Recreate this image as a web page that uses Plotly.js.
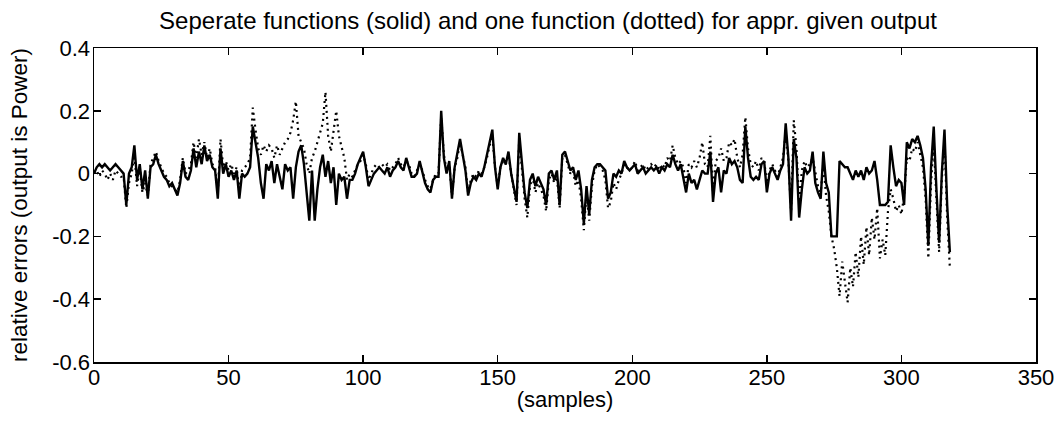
<!DOCTYPE html>
<html>
<head>
<meta charset="utf-8">
<script src="https://cdn.plot.ly/plotly-3.0.1.min.js"></script>
<style>html,body{margin:0;padding:0;background:#fff;}#chart{width:1063px;height:423px;}</style>
</head>
<body>
<div id="chart"></div>
<script>
// relative errors, separate functions (solid)
var separateErrors = [
0.00,0.02,0.03,0.02,0.03,0.02,0.01,0.02,0.03,0.02,
0.01,0.00,-0.10,0.00,0.02,0.09,-0.02,0.03,-0.05,0.01,
-0.08,0.02,0.03,0.06,0.03,0.01,-0.01,-0.02,-0.04,-0.03,
-0.05,-0.07,-0.03,0.04,-0.01,-0.02,0.01,0.08,0.02,0.07,
0.03,0.09,0.04,0.06,0.02,0.01,-0.08,0.08,0.00,0.03,
-0.01,0.01,-0.02,0.01,-0.08,0.00,-0.01,0.00,0.02,0.15,
0.10,0.05,-0.03,-0.08,0.03,0.01,0.04,-0.03,0.03,-0.01,
-0.05,0.03,0.01,0.02,-0.08,0.02,0.07,0.09,0.03,-0.06,
-0.15,0.01,-0.15,-0.05,0.02,0.06,-0.01,0.04,-0.03,0.02,
-0.10,0.00,-0.02,-0.01,-0.08,-0.02,-0.02,0.00,0.03,0.05,
0.07,0.02,-0.04,-0.02,0.00,0.01,0.02,0.01,0.00,0.02,
-0.01,0.01,0.02,0.04,0.02,0.01,0.05,0.02,-0.01,-0.01,
0.00,0.04,0.00,-0.03,-0.05,-0.06,-0.02,-0.01,-0.01,0.20,
0.05,0.00,0.04,-0.08,0.02,0.06,0.11,0.06,0.01,-0.07,
-0.03,-0.01,-0.02,0.00,-0.01,0.02,0.06,0.10,0.14,0.02,
-0.05,0.02,0.05,0.03,0.07,0.00,-0.04,-0.09,0.13,0.02,
-0.06,-0.11,-0.02,0.00,-0.04,-0.01,-0.03,-0.05,-0.10,0.00,
0.01,-0.02,0.01,-0.10,0.06,0.07,0.04,0.01,0.02,-0.02,
0.01,-0.05,-0.16,-0.04,-0.13,-0.02,0.02,0.03,0.03,0.02,
0.01,-0.08,-0.06,0.00,-0.01,0.01,0.00,0.04,0.02,0.01,
0.02,0.03,0.00,0.01,0.02,0.00,0.01,0.02,0.01,0.02,
0.00,0.02,0.01,0.03,0.02,0.06,0.03,0.01,0.03,-0.01,
-0.06,0.00,-0.03,-0.02,-0.05,-0.02,0.01,0.00,0.00,0.07,
-0.09,0.00,0.02,-0.06,0.01,0.00,0.05,0.03,0.04,0.02,
-0.02,-0.03,0.15,0.05,-0.01,-0.02,-0.01,-0.02,0.03,0.04,
-0.06,0.00,0.02,0.00,-0.02,0.01,0.03,0.16,0.05,-0.15,
0.11,0.05,-0.14,-0.05,0.02,0.00,0.01,0.07,-0.03,-0.06,
-0.08,0.07,-0.03,-0.06,-0.20,-0.20,-0.20,0.04,0.03,0.02,
0.02,0.00,-0.02,0.01,-0.01,0.01,-0.02,0.02,0.00,0.01,
0.04,-0.02,-0.10,-0.10,-0.10,-0.09,0.09,0.02,-0.04,-0.02,
-0.03,-0.10,0.10,0.08,0.11,0.10,0.12,0.09,0.05,-0.05,
-0.23,0.02,0.15,-0.05,-0.22,0.00,0.14,-0.10,-0.25
];
// relative errors, one function (dotted)
var oneFunctionErrors = [
0.00,0.01,-0.01,0.01,0.00,-0.02,0.00,-0.02,0.01,0.00,
-0.01,-0.01,-0.11,-0.03,0.00,0.06,-0.04,0.02,-0.06,-0.03,
-0.07,0.03,0.05,0.07,0.04,0.02,0.00,-0.01,-0.03,-0.04,
-0.05,-0.06,-0.02,0.05,0.00,0.01,0.03,0.10,0.05,0.11,
0.06,0.10,0.05,0.08,0.03,0.02,-0.06,0.11,0.02,0.04,
0.01,0.03,0.00,0.02,-0.06,0.01,0.02,0.03,0.05,0.21,
0.14,0.08,0.06,0.09,0.07,0.09,0.08,0.05,0.09,0.06,
0.08,0.10,0.11,0.13,0.17,0.23,0.12,0.10,0.08,0.03,
0.00,0.05,0.07,0.10,0.13,0.16,0.26,0.12,0.07,0.13,
0.20,0.12,0.08,0.05,-0.02,0.00,-0.01,0.01,0.03,0.04,
0.06,0.03,-0.02,0.00,0.02,0.03,0.02,0.03,0.02,0.03,
0.01,0.02,0.03,0.05,0.03,0.02,0.04,0.03,0.00,-0.01,
0.01,0.03,0.01,-0.02,-0.04,-0.05,-0.02,0.00,0.00,0.18,
0.06,0.01,0.03,-0.07,0.02,0.05,0.10,0.06,0.02,-0.06,
-0.02,0.00,-0.01,0.01,0.00,0.02,0.05,0.09,0.12,0.02,
-0.04,0.02,0.04,0.03,0.06,0.00,-0.05,-0.10,0.11,0.01,
-0.08,-0.14,-0.04,-0.01,-0.06,-0.03,-0.05,-0.07,-0.12,-0.02,
0.00,-0.03,-0.01,-0.11,0.05,0.06,0.03,0.00,0.01,-0.04,
-0.02,-0.08,-0.18,-0.06,-0.15,-0.04,0.01,0.03,0.02,0.01,
-0.02,-0.11,-0.09,-0.03,-0.05,-0.02,0.00,0.03,0.02,0.01,
0.02,0.04,0.01,0.02,0.03,0.01,0.02,0.03,0.02,0.03,
0.01,0.03,0.02,0.05,0.04,0.09,0.05,0.03,0.04,0.02,
-0.03,0.03,0.02,0.04,0.02,0.05,0.10,0.03,0.02,0.12,
-0.06,0.04,0.05,0.08,0.04,0.05,0.10,0.09,0.11,0.05,
0.02,0.06,0.18,0.08,0.03,0.02,0.04,0.01,0.05,0.04,
-0.03,0.01,0.03,0.01,-0.01,0.02,0.05,0.13,0.04,-0.12,
0.17,0.08,-0.10,0.01,0.04,0.02,0.03,0.05,0.00,-0.04,
-0.06,0.03,-0.07,-0.12,-0.20,-0.24,-0.30,-0.39,-0.28,-0.35,
-0.41,-0.30,-0.36,-0.25,-0.33,-0.20,-0.29,-0.17,-0.26,-0.14,
-0.21,-0.11,-0.27,-0.21,-0.26,-0.12,-0.05,-0.08,-0.12,-0.10,
-0.13,-0.07,0.05,0.04,0.08,0.07,0.10,0.06,0.02,-0.08,
-0.27,-0.03,0.10,-0.08,-0.25,-0.02,0.11,-0.14,-0.30
];
var xTickVals = [0,50,100,150,200,250,300,350];
var xTickText = ["0","50","100","150","200","250","300","350"];
var yTickVals = [-0.6,-0.4,-0.2,0,0.2,0.4];
var yTickText = ["-0.6","-0.4","-0.2","0","0.2","0.4"];

var samples = separateErrors.map(function(_, i){ return i; });

var FONT = "Liberation Sans, Arial, Helvetica, sans-serif";

var traces = [
  {x: samples, y: oneFunctionErrors, type: "scatter", mode: "lines",
   line: {color: "#000", width: 2.2, dash: "2px,4px"}, hoverinfo: "skip"},
  {x: samples, y: separateErrors, type: "scatter", mode: "lines",
   line: {color: "#000", width: 2.4}, hoverinfo: "skip"}
];

var axisCommon = {
  showline: true, linecolor: "#000", linewidth: 1.5, mirror: "ticks",
  ticks: "inside", ticklen: 7, tickwidth: 1.5, tickcolor: "#000",
  showgrid: false, zeroline: false,
  tickfont: {family: FONT, size: 22, color: "#000"}
};

var layout = {
  width: 1063, height: 423,
  paper_bgcolor: "#fff", plot_bgcolor: "#fff",
  margin: {l: 94, r: 27, t: 48, b: 61},
  showlegend: false,
  title: {text: "Seperate functions (solid) and one function (dotted) for appr. given output",
          font: {family: FONT, size: 24, color: "#000"}, x: 0.482, xref: "paper", xanchor: "center", y: 0.952, yanchor: "middle"},
  xaxis: Object.assign({}, axisCommon, {
    range: [0, 350], tickmode: "array", tickvals: xTickVals, ticktext: xTickText,
    ticklabelstandoff: -5,
    title: {text: "(samples)", font: {family: FONT, size: 22, color: "#000"}, standoff: 2}
  }),
  yaxis: Object.assign({}, axisCommon, {
    range: [-0.6, 0.4], tickmode: "array", tickvals: yTickVals, ticktext: yTickText,
    ticklabelstandoff: -2,
    title: {text: "relative errors (output is Power)", font: {family: FONT, size: 22.5, color: "#000"}, standoff: 18}
  })
};

Plotly.newPlot("chart", traces, layout, {staticPlot: true, displayModeBar: false});
</script>
</body>
</html>
